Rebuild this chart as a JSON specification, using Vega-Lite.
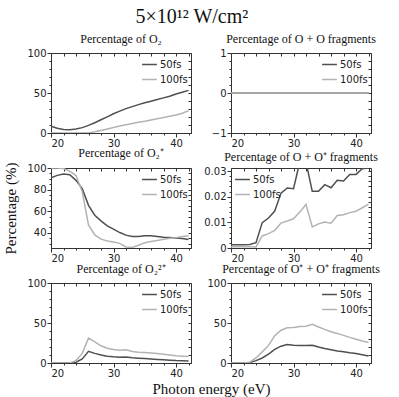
{
  "$schema": "https://vega.github.io/schema/vega-lite/v6.json",
  "padding": {"top": 6, "left": 3, "right": 5, "bottom": 4},
  "title": {"text": "5×10¹² W/cm²", "font": "Liberation Serif", "fontWeight": "normal", "color": "#111111", "fontSize": 20, "anchor": "middle", "offset": 6},
  "data": {"values": [
    {"p":"a","e":20,"50fs":8.4,"100fs":0},{"p":"a","e":21,"50fs":5.9,"100fs":0},{"p":"a","e":22,"50fs":4.4,"100fs":0},{"p":"a","e":23,"50fs":4.2,"100fs":0},{"p":"a","e":24,"50fs":5.0,"100fs":0},{"p":"a","e":25,"50fs":6.7,"100fs":0},{"p":"a","e":26,"50fs":9.5,"100fs":0},{"p":"a","e":27,"50fs":12.8,"100fs":1.5},{"p":"a","e":28,"50fs":16.5,"100fs":3.2},{"p":"a","e":29,"50fs":20.2,"100fs":5.0},{"p":"a","e":30,"50fs":24.0,"100fs":7.0},{"p":"a","e":31,"50fs":27.3,"100fs":8.7},{"p":"a","e":32,"50fs":30.5,"100fs":10.4},{"p":"a","e":33,"50fs":33.0,"100fs":11.8},{"p":"a","e":34,"50fs":35.5,"100fs":13.3},{"p":"a","e":35,"50fs":37.7,"100fs":14.7},{"p":"a","e":36,"50fs":39.8,"100fs":16.3},{"p":"a","e":37,"50fs":41.8,"100fs":17.9},{"p":"a","e":38,"50fs":43.9,"100fs":19.3},{"p":"a","e":39,"50fs":46.0,"100fs":20.9},{"p":"a","e":40,"50fs":48.8,"100fs":22.6},{"p":"a","e":41,"50fs":51.0,"100fs":24.7},{"p":"a","e":42,"50fs":53.3,"100fs":27.8},
    {"p":"b","e":20,"50fs":0,"100fs":0},{"p":"b","e":21,"50fs":0,"100fs":0},{"p":"b","e":22,"50fs":0,"100fs":0},{"p":"b","e":23,"50fs":0,"100fs":0},{"p":"b","e":24,"50fs":0,"100fs":0},{"p":"b","e":25,"50fs":0,"100fs":0},{"p":"b","e":26,"50fs":0,"100fs":0},{"p":"b","e":27,"50fs":0,"100fs":0},{"p":"b","e":28,"50fs":0,"100fs":0},{"p":"b","e":29,"50fs":0,"100fs":0},{"p":"b","e":30,"50fs":0,"100fs":0},{"p":"b","e":31,"50fs":0,"100fs":0},{"p":"b","e":32,"50fs":0,"100fs":0},{"p":"b","e":33,"50fs":0,"100fs":0},{"p":"b","e":34,"50fs":0,"100fs":0},{"p":"b","e":35,"50fs":0,"100fs":0},{"p":"b","e":36,"50fs":0,"100fs":0},{"p":"b","e":37,"50fs":0,"100fs":0},{"p":"b","e":38,"50fs":0,"100fs":0},{"p":"b","e":39,"50fs":0,"100fs":0},{"p":"b","e":40,"50fs":0,"100fs":0},{"p":"b","e":41,"50fs":0,"100fs":0},{"p":"b","e":42,"50fs":0,"100fs":0},
    {"p":"c","e":20,"50fs":91.0,"100fs":100},{"p":"c","e":21,"50fs":93.2,"100fs":100},{"p":"c","e":22,"50fs":94.5,"100fs":99.5},{"p":"c","e":23,"50fs":93.8,"100fs":97},{"p":"c","e":24,"50fs":88.6,"100fs":93},{"p":"c","e":25,"50fs":80.9,"100fs":78},{"p":"c","e":26,"50fs":65.5,"100fs":47.4},{"p":"c","e":27,"50fs":56.3,"100fs":38.1},{"p":"c","e":28,"50fs":51.1,"100fs":34.2},{"p":"c","e":29,"50fs":46.5,"100fs":32.4},{"p":"c","e":30,"50fs":43.4,"100fs":31.5},{"p":"c","e":31,"50fs":40.3,"100fs":30.3},{"p":"c","e":32,"50fs":37.9,"100fs":27.0},{"p":"c","e":33,"50fs":36.6,"100fs":26.5},{"p":"c","e":34,"50fs":36.6,"100fs":28.6},{"p":"c","e":35,"50fs":37.3,"100fs":30.8},{"p":"c","e":36,"50fs":37.3,"100fs":32.0},{"p":"c","e":37,"50fs":36.6,"100fs":33.0},{"p":"c","e":38,"50fs":36.0,"100fs":34.0},{"p":"c","e":39,"50fs":35.6,"100fs":35.0},{"p":"c","e":40,"50fs":35.3,"100fs":35.6},{"p":"c","e":41,"50fs":34.7,"100fs":36.6},{"p":"c","e":42,"50fs":33.8,"100fs":37.4},
    {"p":"d","e":20,"50fs":0.0013,"100fs":0.0005},{"p":"d","e":21,"50fs":0.0013,"100fs":0.0005},{"p":"d","e":22,"50fs":0.0013,"100fs":0.0005},{"p":"d","e":23,"50fs":0.0014,"100fs":0.0005},{"p":"d","e":24,"50fs":0.0021,"100fs":0.0004},{"p":"d","e":25,"50fs":0.0099,"100fs":0.0047},{"p":"d","e":26,"50fs":0.0117,"100fs":0.0056},{"p":"d","e":27,"50fs":0.0144,"100fs":0.0069},{"p":"d","e":28,"50fs":0.0214,"100fs":0.0097},{"p":"d","e":29,"50fs":0.0234,"100fs":0.0105},{"p":"d","e":30,"50fs":0.0231,"100fs":0.0114},{"p":"d","e":31,"50fs":0.0335,"100fs":0.014},{"p":"d","e":32,"50fs":0.0335,"100fs":0.017},{"p":"d","e":33,"50fs":0.0221,"100fs":0.0082},{"p":"d","e":34,"50fs":0.0221,"100fs":0.0094},{"p":"d","e":35,"50fs":0.0247,"100fs":0.0101},{"p":"d","e":36,"50fs":0.0235,"100fs":0.0097},{"p":"d","e":37,"50fs":0.0264,"100fs":0.0127},{"p":"d","e":38,"50fs":0.0261,"100fs":0.013},{"p":"d","e":39,"50fs":0.0287,"100fs":0.0138},{"p":"d","e":40,"50fs":0.0287,"100fs":0.0143},{"p":"d","e":41,"50fs":0.0309,"100fs":0.0157},{"p":"d","e":42,"50fs":0.0312,"100fs":0.0171},
    {"p":"e","e":20,"50fs":0,"100fs":0},{"p":"e","e":21,"50fs":0,"100fs":0},{"p":"e","e":22,"50fs":0,"100fs":0},{"p":"e","e":23,"50fs":0,"100fs":0},{"p":"e","e":24,"50fs":1,"100fs":3},{"p":"e","e":25,"50fs":5,"100fs":12},{"p":"e","e":26,"50fs":14.6,"100fs":31},{"p":"e","e":27,"50fs":12,"100fs":26.5},{"p":"e","e":28,"50fs":10,"100fs":21.5},{"p":"e","e":29,"50fs":8.5,"100fs":18.5},{"p":"e","e":30,"50fs":7.8,"100fs":17},{"p":"e","e":31,"50fs":7.3,"100fs":16},{"p":"e","e":32,"50fs":7.5,"100fs":16.5},{"p":"e","e":33,"50fs":6.5,"100fs":14.5},{"p":"e","e":34,"50fs":6,"100fs":13.5},{"p":"e","e":35,"50fs":5.5,"100fs":13},{"p":"e","e":36,"50fs":5,"100fs":12.5},{"p":"e","e":37,"50fs":4.5,"100fs":12},{"p":"e","e":38,"50fs":4,"100fs":11},{"p":"e","e":39,"50fs":3.5,"100fs":10},{"p":"e","e":40,"50fs":3,"100fs":9},{"p":"e","e":41,"50fs":2.8,"100fs":8.5},{"p":"e","e":42,"50fs":2.5,"100fs":8},
    {"p":"f","e":20,"50fs":0,"100fs":0},{"p":"f","e":21,"50fs":0,"100fs":0},{"p":"f","e":22,"50fs":0,"100fs":0},{"p":"f","e":23,"50fs":0.5,"100fs":1},{"p":"f","e":24,"50fs":3,"100fs":6.3},{"p":"f","e":25,"50fs":6.3,"100fs":13.9},{"p":"f","e":26,"50fs":11,"100fs":22},{"p":"f","e":27,"50fs":17,"100fs":34},{"p":"f","e":28,"50fs":21,"100fs":41},{"p":"f","e":29,"50fs":23,"100fs":44},{"p":"f","e":30,"50fs":22.3,"100fs":44.5},{"p":"f","e":31,"50fs":22,"100fs":45.5},{"p":"f","e":32,"50fs":22,"100fs":46},{"p":"f","e":33,"50fs":22.3,"100fs":48.3},{"p":"f","e":34,"50fs":20,"100fs":45},{"p":"f","e":35,"50fs":18,"100fs":42},{"p":"f","e":36,"50fs":16.5,"100fs":39},{"p":"f","e":37,"50fs":15,"100fs":37},{"p":"f","e":38,"50fs":14,"100fs":34.5},{"p":"f","e":39,"50fs":12.8,"100fs":32},{"p":"f","e":40,"50fs":11.8,"100fs":29.8},{"p":"f","e":41,"50fs":10.3,"100fs":27.5},{"p":"f","e":42,"50fs":8.8,"100fs":25.6}
  ]},
  "columns": 2,
  "spacing": {"row": 35, "column": 40},
  "bounds": "flush",
  "resolve": {"legend": {"color": "independent"}},
  "concat": [
    {
      "width": 140, "height": 80,
      "view": {"stroke": "#333333", "strokeWidth": 1},
      "title": {"text": "Percentage of O₂", "font": "Liberation Serif", "fontSize": 12, "fontWeight": "normal", "color": "#111111", "offset": 2},
      "transform": [{"filter": "datum.p == 'a'"}, {"fold": ["50fs", "100fs"], "as": ["pulse", "value"]}],
      "resolve": {"axis": {"x": "independent", "y": "independent"}},
      "layer": [
        {"transform": [{"filter": "datum.pulse == '50fs'"}],
         "mark": {"type": "line", "clip": true, "strokeWidth": 1.5},
         "encoding": {
           "x": {"field": "e", "type": "quantitative", "scale": {"domain": [20, 42.4], "nice": false}, "axis": {"orient": "bottom", "title": null, "grid": false, "domainColor": "#333333", "tickColor": "#333333", "labelFont": "DejaVu Sans", "labelFontSize": 10, "labelColor": "#222222", "labelPadding": 1, "values": [20,22,24,26,28,30,32,34,36,38,40,42], "labelExpr": "datum.value % 10 == 0 ? datum.label : ''", "tickSize": {"condition": {"test": "datum.value % 10 == 0", "value": 4}, "value": 2}}},
           "y": {"field": "value", "type": "quantitative", "scale": {"domain": [0, 100], "nice": false}, "axis": {"orient": "left", "title": null, "grid": false, "domainColor": "#333333", "tickColor": "#333333", "labelFont": "DejaVu Sans", "labelFontSize": 10, "labelColor": "#222222", "labelPadding": 1, "format": "d", "values": [0,10,20,30,40,50,60,70,80,90,100], "labelExpr": "datum.value % 50 == 0 ? datum.label : ''", "tickSize": {"condition": {"test": "datum.value % 50 == 0", "value": 4}, "value": 2}}},
           "color": {"field": "pulse", "type": "nominal", "title": null, "scale": {"domain": ["50fs", "100fs"], "range": ["#4f4f4f", "#b3b3b3"]}, "legend": {"orient": "top-right", "offset": 3, "symbolType": "stroke", "symbolSize": 220, "symbolStrokeWidth": 1.5, "labelFont": "DejaVu Sans", "labelFontSize": 10, "labelColor": "#222222", "rowPadding": 1, "padding": 0, "labelOffset": 2}}
         }},
        {"transform": [{"filter": "datum.pulse == '100fs'"}],
         "mark": {"type": "line", "clip": true, "strokeWidth": 1.5},
         "encoding": {
           "x": {"field": "e", "type": "quantitative", "scale": {"domain": [20, 42.4], "nice": false}, "axis": {"orient": "top", "title": null, "grid": false, "labels": false, "domain": false, "tickColor": "#333333", "offset": -3, "tickSize": 3, "values": [20,22,24,26,28,30,32,34,36,38,40,42]}},
           "y": {"field": "value", "type": "quantitative", "scale": {"domain": [0, 100], "nice": false}, "axis": {"orient": "right", "title": null, "grid": false, "labels": false, "domain": false, "tickColor": "#333333", "offset": -3, "tickSize": 3, "values": [0,10,20,30,40,50,60,70,80,90,100]}},
           "color": {"field": "pulse", "type": "nominal", "title": null, "scale": {"domain": ["50fs", "100fs"], "range": ["#4f4f4f", "#b3b3b3"]}}
         }}
      ]
    },
    {
      "width": 140, "height": 80,
      "view": {"stroke": "#333333", "strokeWidth": 1},
      "title": {"text": "Percentage of O + O fragments", "font": "Liberation Serif", "fontSize": 12, "fontWeight": "normal", "color": "#111111", "offset": 2},
      "transform": [{"filter": "datum.p == 'b'"}, {"fold": ["50fs", "100fs"], "as": ["pulse", "value"]}],
      "resolve": {"axis": {"x": "independent", "y": "independent"}},
      "layer": [
        {"transform": [{"filter": "datum.pulse == '50fs'"}],
         "mark": {"type": "line", "clip": true, "strokeWidth": 1.5},
         "encoding": {
           "x": {"field": "e", "type": "quantitative", "scale": {"domain": [20, 42.4], "nice": false}, "axis": {"orient": "bottom", "title": null, "grid": false, "domainColor": "#333333", "tickColor": "#333333", "labelFont": "DejaVu Sans", "labelFontSize": 10, "labelColor": "#222222", "labelPadding": 1, "values": [20,22,24,26,28,30,32,34,36,38,40,42], "labelExpr": "datum.value % 10 == 0 ? datum.label : ''", "tickSize": {"condition": {"test": "datum.value % 10 == 0", "value": 4}, "value": 2}}},
           "y": {"field": "value", "type": "quantitative", "scale": {"domain": [-1, 1], "nice": false}, "axis": {"orient": "left", "title": null, "grid": false, "domainColor": "#333333", "tickColor": "#333333", "labelFont": "DejaVu Sans", "labelFontSize": 10, "labelColor": "#222222", "labelPadding": 1, "format": "~g", "values": [-1,-0.8,-0.6,-0.4,-0.2,0,0.2,0.4,0.6,0.8,1], "labelExpr": "abs(datum.value - round(datum.value)) < 1e-6 ? datum.label : ''", "tickSize": {"condition": {"test": "abs(datum.value - round(datum.value)) < 1e-6", "value": 4}, "value": 2}}},
           "color": {"field": "pulse", "type": "nominal", "title": null, "scale": {"domain": ["50fs", "100fs"], "range": ["#4f4f4f", "#b3b3b3"]}, "legend": {"orient": "top-right", "offset": 3, "symbolType": "stroke", "symbolSize": 220, "symbolStrokeWidth": 1.5, "labelFont": "DejaVu Sans", "labelFontSize": 10, "labelColor": "#222222", "rowPadding": 1, "padding": 0, "labelOffset": 2}}
         }},
        {"transform": [{"filter": "datum.pulse == '100fs'"}],
         "mark": {"type": "line", "clip": true, "strokeWidth": 1.5},
         "encoding": {
           "x": {"field": "e", "type": "quantitative", "scale": {"domain": [20, 42.4], "nice": false}, "axis": {"orient": "top", "title": null, "grid": false, "labels": false, "domain": false, "tickColor": "#333333", "offset": -3, "tickSize": 3, "values": [20,22,24,26,28,30,32,34,36,38,40,42]}},
           "y": {"field": "value", "type": "quantitative", "scale": {"domain": [-1, 1], "nice": false}, "axis": {"orient": "right", "title": null, "grid": false, "labels": false, "domain": false, "tickColor": "#333333", "offset": -3, "tickSize": 3, "values": [-1,-0.8,-0.6,-0.4,-0.2,0,0.2,0.4,0.6,0.8,1]}},
           "color": {"field": "pulse", "type": "nominal", "title": null, "scale": {"domain": ["50fs", "100fs"], "range": ["#4f4f4f", "#b3b3b3"]}}
         }}
      ]
    },
    {
      "width": 140, "height": 80,
      "view": {"stroke": "#333333", "strokeWidth": 1},
      "title": {"text": "Percentage of O₂⁺", "font": "Liberation Serif", "fontSize": 12, "fontWeight": "normal", "color": "#111111", "offset": 2},
      "transform": [{"filter": "datum.p == 'c'"}, {"fold": ["50fs", "100fs"], "as": ["pulse", "value"]}],
      "resolve": {"axis": {"x": "independent", "y": "independent"}},
      "layer": [
        {"transform": [{"filter": "datum.pulse == '50fs'"}],
         "mark": {"type": "line", "clip": true, "strokeWidth": 1.5},
         "encoding": {
           "x": {"field": "e", "type": "quantitative", "scale": {"domain": [20, 42.4], "nice": false}, "axis": {"orient": "bottom", "title": null, "grid": false, "domainColor": "#333333", "tickColor": "#333333", "labelFont": "DejaVu Sans", "labelFontSize": 10, "labelColor": "#222222", "labelPadding": 1, "values": [20,22,24,26,28,30,32,34,36,38,40,42], "labelExpr": "datum.value % 10 == 0 ? datum.label : ''", "tickSize": {"condition": {"test": "datum.value % 10 == 0", "value": 4}, "value": 2}}},
           "y": {"field": "value", "type": "quantitative", "scale": {"domain": [26, 100], "nice": false}, "axis": {"orient": "left", "title": "Percentage (%)", "titleFont": "Liberation Serif", "titleFontSize": 15, "titleFontWeight": "normal", "titleColor": "#111111", "titlePadding": 8, "grid": false, "domainColor": "#333333", "tickColor": "#333333", "labelFont": "DejaVu Sans", "labelFontSize": 10, "labelColor": "#222222", "labelPadding": 1, "format": "d", "values": [30,35,40,45,50,55,60,65,70,75,80,85,90,95,100], "labelExpr": "datum.value % 20 == 0 ? datum.label : ''", "tickSize": {"condition": {"test": "datum.value % 20 == 0", "value": 4}, "value": 2}}},
           "color": {"field": "pulse", "type": "nominal", "title": null, "scale": {"domain": ["50fs", "100fs"], "range": ["#4f4f4f", "#b3b3b3"]}, "legend": {"orient": "top-right", "offset": 3, "symbolType": "stroke", "symbolSize": 220, "symbolStrokeWidth": 1.5, "labelFont": "DejaVu Sans", "labelFontSize": 10, "labelColor": "#222222", "rowPadding": 1, "padding": 0, "labelOffset": 2}}
         }},
        {"transform": [{"filter": "datum.pulse == '100fs'"}],
         "mark": {"type": "line", "clip": true, "strokeWidth": 1.5},
         "encoding": {
           "x": {"field": "e", "type": "quantitative", "scale": {"domain": [20, 42.4], "nice": false}, "axis": {"orient": "top", "title": null, "grid": false, "labels": false, "domain": false, "tickColor": "#333333", "offset": -3, "tickSize": 3, "values": [20,22,24,26,28,30,32,34,36,38,40,42]}},
           "y": {"field": "value", "type": "quantitative", "scale": {"domain": [26, 100], "nice": false}, "axis": {"orient": "right", "title": null, "grid": false, "labels": false, "domain": false, "tickColor": "#333333", "offset": -3, "tickSize": 3, "values": [30,35,40,45,50,55,60,65,70,75,80,85,90,95,100]}},
           "color": {"field": "pulse", "type": "nominal", "title": null, "scale": {"domain": ["50fs", "100fs"], "range": ["#4f4f4f", "#b3b3b3"]}}
         }}
      ]
    },
    {
      "width": 140, "height": 80,
      "view": {"stroke": "#333333", "strokeWidth": 1},
      "title": {"text": "Percentage of O + O⁺ fragments", "font": "Liberation Serif", "fontSize": 12, "fontWeight": "normal", "color": "#111111", "offset": 2},
      "transform": [{"filter": "datum.p == 'd'"}, {"fold": ["50fs", "100fs"], "as": ["pulse", "value"]}],
      "resolve": {"axis": {"x": "independent", "y": "independent"}},
      "layer": [
        {"transform": [{"filter": "datum.pulse == '50fs'"}],
         "mark": {"type": "line", "clip": true, "strokeWidth": 1.5},
         "encoding": {
           "x": {"field": "e", "type": "quantitative", "scale": {"domain": [20, 42.4], "nice": false}, "axis": {"orient": "bottom", "title": null, "grid": false, "domainColor": "#333333", "tickColor": "#333333", "labelFont": "DejaVu Sans", "labelFontSize": 10, "labelColor": "#222222", "labelPadding": 1, "values": [20,22,24,26,28,30,32,34,36,38,40,42], "labelExpr": "datum.value % 10 == 0 ? datum.label : ''", "tickSize": {"condition": {"test": "datum.value % 10 == 0", "value": 4}, "value": 2}}},
           "y": {"field": "value", "type": "quantitative", "scale": {"domain": [0, 0.0312], "nice": false}, "axis": {"orient": "left", "title": null, "grid": false, "domainColor": "#333333", "tickColor": "#333333", "labelFont": "DejaVu Sans", "labelFontSize": 10, "labelColor": "#222222", "labelPadding": 1, "format": "~g", "values": [0,0.002,0.004,0.006,0.008,0.01,0.012,0.014,0.016,0.018,0.02,0.022,0.024,0.026,0.028,0.03], "labelExpr": "abs(datum.value*100 - round(datum.value*100)) < 1e-6 ? datum.label : ''", "tickSize": {"condition": {"test": "abs(datum.value*100 - round(datum.value*100)) < 1e-6", "value": 4}, "value": 2}}},
           "color": {"field": "pulse", "type": "nominal", "title": null, "scale": {"domain": ["50fs", "100fs"], "range": ["#4f4f4f", "#b3b3b3"]}, "legend": {"orient": "top-left", "offset": 3, "symbolType": "stroke", "symbolSize": 220, "symbolStrokeWidth": 1.5, "labelFont": "DejaVu Sans", "labelFontSize": 10, "labelColor": "#222222", "rowPadding": 1, "padding": 0, "labelOffset": 2}}
         }},
        {"transform": [{"filter": "datum.pulse == '100fs'"}],
         "mark": {"type": "line", "clip": true, "strokeWidth": 1.5},
         "encoding": {
           "x": {"field": "e", "type": "quantitative", "scale": {"domain": [20, 42.4], "nice": false}, "axis": {"orient": "top", "title": null, "grid": false, "labels": false, "domain": false, "tickColor": "#333333", "offset": -3, "tickSize": 3, "values": [20,22,24,26,28,30,32,34,36,38,40,42]}},
           "y": {"field": "value", "type": "quantitative", "scale": {"domain": [0, 0.0312], "nice": false}, "axis": {"orient": "right", "title": null, "grid": false, "labels": false, "domain": false, "tickColor": "#333333", "offset": -3, "tickSize": 3, "values": [0,0.002,0.004,0.006,0.008,0.01,0.012,0.014,0.016,0.018,0.02,0.022,0.024,0.026,0.028,0.03]}},
           "color": {"field": "pulse", "type": "nominal", "title": null, "scale": {"domain": ["50fs", "100fs"], "range": ["#4f4f4f", "#b3b3b3"]}}
         }}
      ]
    },
    {
      "width": 140, "height": 80,
      "view": {"stroke": "#333333", "strokeWidth": 1},
      "title": {"text": "Percentage of O₂²⁺", "font": "Liberation Serif", "fontSize": 12, "fontWeight": "normal", "color": "#111111", "offset": 2},
      "transform": [{"filter": "datum.p == 'e'"}, {"fold": ["50fs", "100fs"], "as": ["pulse", "value"]}],
      "resolve": {"axis": {"x": "independent", "y": "independent"}},
      "layer": [
        {"transform": [{"filter": "datum.pulse == '50fs'"}],
         "mark": {"type": "line", "clip": true, "strokeWidth": 1.5},
         "encoding": {
           "x": {"field": "e", "type": "quantitative", "scale": {"domain": [20, 42.4], "nice": false}, "axis": {"orient": "bottom", "title": "Photon energy (eV)", "titleFont": "Liberation Serif", "titleFontSize": 15, "titleFontWeight": "normal", "titleColor": "#111111", "titleX": 160, "titleAlign": "center", "titlePadding": 3, "grid": false, "domainColor": "#333333", "tickColor": "#333333", "labelFont": "DejaVu Sans", "labelFontSize": 10, "labelColor": "#222222", "labelPadding": 1, "values": [20,22,24,26,28,30,32,34,36,38,40,42], "labelExpr": "datum.value % 10 == 0 ? datum.label : ''", "tickSize": {"condition": {"test": "datum.value % 10 == 0", "value": 4}, "value": 2}}},
           "y": {"field": "value", "type": "quantitative", "scale": {"domain": [0, 100], "nice": false}, "axis": {"orient": "left", "title": null, "grid": false, "domainColor": "#333333", "tickColor": "#333333", "labelFont": "DejaVu Sans", "labelFontSize": 10, "labelColor": "#222222", "labelPadding": 1, "format": "d", "values": [0,10,20,30,40,50,60,70,80,90,100], "labelExpr": "datum.value % 50 == 0 ? datum.label : ''", "tickSize": {"condition": {"test": "datum.value % 50 == 0", "value": 4}, "value": 2}}},
           "color": {"field": "pulse", "type": "nominal", "title": null, "scale": {"domain": ["50fs", "100fs"], "range": ["#4f4f4f", "#b3b3b3"]}, "legend": {"orient": "top-right", "offset": 3, "symbolType": "stroke", "symbolSize": 220, "symbolStrokeWidth": 1.5, "labelFont": "DejaVu Sans", "labelFontSize": 10, "labelColor": "#222222", "rowPadding": 1, "padding": 0, "labelOffset": 2}}
         }},
        {"transform": [{"filter": "datum.pulse == '100fs'"}],
         "mark": {"type": "line", "clip": true, "strokeWidth": 1.5},
         "encoding": {
           "x": {"field": "e", "type": "quantitative", "scale": {"domain": [20, 42.4], "nice": false}, "axis": {"orient": "top", "title": null, "grid": false, "labels": false, "domain": false, "tickColor": "#333333", "offset": -3, "tickSize": 3, "values": [20,22,24,26,28,30,32,34,36,38,40,42]}},
           "y": {"field": "value", "type": "quantitative", "scale": {"domain": [0, 100], "nice": false}, "axis": {"orient": "right", "title": null, "grid": false, "labels": false, "domain": false, "tickColor": "#333333", "offset": -3, "tickSize": 3, "values": [0,10,20,30,40,50,60,70,80,90,100]}},
           "color": {"field": "pulse", "type": "nominal", "title": null, "scale": {"domain": ["50fs", "100fs"], "range": ["#4f4f4f", "#b3b3b3"]}}
         }}
      ]
    },
    {
      "width": 140, "height": 80,
      "view": {"stroke": "#333333", "strokeWidth": 1},
      "title": {"text": "Percentage of O⁺ + O⁺ fragments", "font": "Liberation Serif", "fontSize": 12, "fontWeight": "normal", "color": "#111111", "offset": 2},
      "transform": [{"filter": "datum.p == 'f'"}, {"fold": ["50fs", "100fs"], "as": ["pulse", "value"]}],
      "resolve": {"axis": {"x": "independent", "y": "independent"}},
      "layer": [
        {"transform": [{"filter": "datum.pulse == '50fs'"}],
         "mark": {"type": "line", "clip": true, "strokeWidth": 1.5},
         "encoding": {
           "x": {"field": "e", "type": "quantitative", "scale": {"domain": [20, 42.4], "nice": false}, "axis": {"orient": "bottom", "title": null, "grid": false, "domainColor": "#333333", "tickColor": "#333333", "labelFont": "DejaVu Sans", "labelFontSize": 10, "labelColor": "#222222", "labelPadding": 1, "values": [20,22,24,26,28,30,32,34,36,38,40,42], "labelExpr": "datum.value % 10 == 0 ? datum.label : ''", "tickSize": {"condition": {"test": "datum.value % 10 == 0", "value": 4}, "value": 2}}},
           "y": {"field": "value", "type": "quantitative", "scale": {"domain": [0, 100], "nice": false}, "axis": {"orient": "left", "title": null, "grid": false, "domainColor": "#333333", "tickColor": "#333333", "labelFont": "DejaVu Sans", "labelFontSize": 10, "labelColor": "#222222", "labelPadding": 1, "format": "d", "values": [0,10,20,30,40,50,60,70,80,90,100], "labelExpr": "datum.value % 50 == 0 ? datum.label : ''", "tickSize": {"condition": {"test": "datum.value % 50 == 0", "value": 4}, "value": 2}}},
           "color": {"field": "pulse", "type": "nominal", "title": null, "scale": {"domain": ["50fs", "100fs"], "range": ["#4f4f4f", "#b3b3b3"]}, "legend": {"orient": "top-right", "offset": 3, "symbolType": "stroke", "symbolSize": 220, "symbolStrokeWidth": 1.5, "labelFont": "DejaVu Sans", "labelFontSize": 10, "labelColor": "#222222", "rowPadding": 1, "padding": 0, "labelOffset": 2}}
         }},
        {"transform": [{"filter": "datum.pulse == '100fs'"}],
         "mark": {"type": "line", "clip": true, "strokeWidth": 1.5},
         "encoding": {
           "x": {"field": "e", "type": "quantitative", "scale": {"domain": [20, 42.4], "nice": false}, "axis": {"orient": "top", "title": null, "grid": false, "labels": false, "domain": false, "tickColor": "#333333", "offset": -3, "tickSize": 3, "values": [20,22,24,26,28,30,32,34,36,38,40,42]}},
           "y": {"field": "value", "type": "quantitative", "scale": {"domain": [0, 100], "nice": false}, "axis": {"orient": "right", "title": null, "grid": false, "labels": false, "domain": false, "tickColor": "#333333", "offset": -3, "tickSize": 3, "values": [0,10,20,30,40,50,60,70,80,90,100]}},
           "color": {"field": "pulse", "type": "nominal", "title": null, "scale": {"domain": ["50fs", "100fs"], "range": ["#4f4f4f", "#b3b3b3"]}}
         }}
      ]
    }
  ],
  "config": {
    "view": {"stroke": "#333333", "strokeWidth": 1}
  }
}
